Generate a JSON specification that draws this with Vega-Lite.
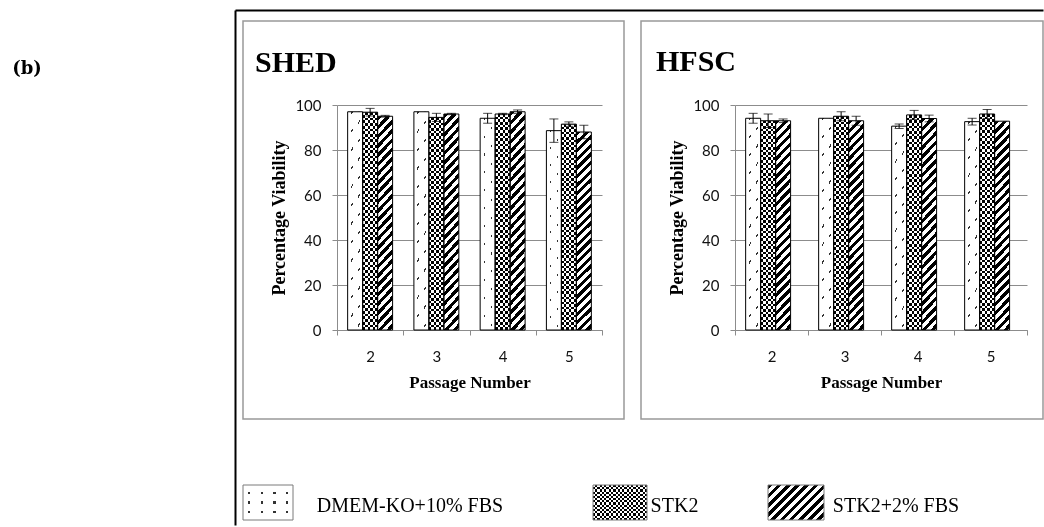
{
  "$schema": "https://vega.github.io/schema/vega-lite/v6.json",
  "usermeta": {"embedOptions": {"actions": false}},
  "background": "white",
  "padding": {"left": 0, "top": 9, "right": 0, "bottom": 0},
  "config": {"view": {"stroke": null}, "font": "Liberation Serif"},
  "datasets": {
    "via": [
      {"panel": "SHED", "passage": "2", "medium": "DMEM-KO+10% FBS", "v": 97, "lo": 97, "hi": 97},
      {"panel": "SHED", "passage": "2", "medium": "STK2", "v": 96.8, "lo": 95.1, "hi": 98.5},
      {"panel": "SHED", "passage": "2", "medium": "STK2+2% FBS", "v": 95, "lo": 94.6, "hi": 95.4},
      {"panel": "SHED", "passage": "3", "medium": "DMEM-KO+10% FBS", "v": 97, "lo": 97, "hi": 97},
      {"panel": "SHED", "passage": "3", "medium": "STK2", "v": 94.5, "lo": 92.7, "hi": 96.3},
      {"panel": "SHED", "passage": "3", "medium": "STK2+2% FBS", "v": 96, "lo": 95.7, "hi": 96.3},
      {"panel": "SHED", "passage": "4", "medium": "DMEM-KO+10% FBS", "v": 94.1, "lo": 91.9, "hi": 96.3},
      {"panel": "SHED", "passage": "4", "medium": "STK2", "v": 96, "lo": 95.7, "hi": 96.3},
      {"panel": "SHED", "passage": "4", "medium": "STK2+2% FBS", "v": 97, "lo": 96.2, "hi": 97.8},
      {"panel": "SHED", "passage": "5", "medium": "DMEM-KO+10% FBS", "v": 88.6, "lo": 83.4, "hi": 93.8},
      {"panel": "SHED", "passage": "5", "medium": "STK2", "v": 91.5, "lo": 90.5, "hi": 92.5},
      {"panel": "SHED", "passage": "5", "medium": "STK2+2% FBS", "v": 88, "lo": 85, "hi": 91},
      {"panel": "HFSC", "passage": "2", "medium": "DMEM-KO+10% FBS", "v": 94.1, "lo": 91.9, "hi": 96.3},
      {"panel": "HFSC", "passage": "2", "medium": "STK2", "v": 93, "lo": 90, "hi": 96},
      {"panel": "HFSC", "passage": "2", "medium": "STK2+2% FBS", "v": 93, "lo": 92.2, "hi": 93.8},
      {"panel": "HFSC", "passage": "3", "medium": "DMEM-KO+10% FBS", "v": 94.1, "lo": 94.1, "hi": 94.1},
      {"panel": "HFSC", "passage": "3", "medium": "STK2", "v": 95, "lo": 93, "hi": 97},
      {"panel": "HFSC", "passage": "3", "medium": "STK2+2% FBS", "v": 93, "lo": 91, "hi": 95},
      {"panel": "HFSC", "passage": "4", "medium": "DMEM-KO+10% FBS", "v": 90.6, "lo": 89.6, "hi": 91.6},
      {"panel": "HFSC", "passage": "4", "medium": "STK2", "v": 95.6, "lo": 93.6, "hi": 97.6},
      {"panel": "HFSC", "passage": "4", "medium": "STK2+2% FBS", "v": 94, "lo": 92.5, "hi": 95.5},
      {"panel": "HFSC", "passage": "5", "medium": "DMEM-KO+10% FBS", "v": 92.6, "lo": 91.1, "hi": 94.1},
      {"panel": "HFSC", "passage": "5", "medium": "STK2", "v": 96, "lo": 94, "hi": 98},
      {"panel": "HFSC", "passage": "5", "medium": "STK2+2% FBS", "v": 92.8, "lo": 92.8, "hi": 92.8}
    ]
  },
  "bounds": "flush",
  "spacing": 189,
  "hconcat": [
    {
      "width": 54,
      "height": 96,
      "data": {"values": [{"t": "(b)"}]},
      "mark": {"type": "text", "font": "DejaVu Serif", "fontSize": 18, "fontWeight": "bold", "baseline": "middle", "align": "center", "color": "#000"},
      "encoding": {"text": {"field": "t"}}
    },
    {
      "bounds": "flush",
      "spacing": 464,
      "vconcat": [
        {
          "bounds": "flush",
          "spacing": 17,
          "hconcat": [
            {
              "width": 381,
              "height": 398,
              "view": {"stroke": "#999999", "strokeWidth": 1.5},
              "title": {"text": "SHED", "anchor": "start", "frame": "group", "orient": "top", "offset": -92, "dx": 12, "baseline": "alphabetic", "font": "Liberation Serif", "fontSize": 30, "fontWeight": "bold", "color": "#000"},
              "data": {"name": "via"},
              "transform": [{"filter": "datum.panel === 'SHED'"}],
              "resolve": {"scale": {"x": "independent", "y": "independent"}, "axis": {"x": "independent", "y": "independent"}},
              "layer": [
                {
                  "mark": {"type": "point", "opacity": 0},
                  "encoding": {
                    "x": {"field": "passage", "type": "nominal", "scale": {"type": "point", "range": [-8, 800]}, "axis": {"orient": "top", "offset": 11, "domain": true, "domainColor": "#000", "domainWidth": 2, "ticks": false, "labels": false, "grid": false, "title": null}},
                    "y": {"field": "v", "type": "quantitative", "scale": {"range": [504, -11]}, "axis": {"orient": "left", "offset": 8, "domain": true, "domainColor": "#000", "domainWidth": 2, "ticks": false, "labels": false, "grid": false, "title": null}}
                  }
                },
                {
                  "encoding": {
                    "x": {"field": "passage", "type": "nominal", "scale": {"domain": ["2", "3", "4", "5"], "range": [94, 359], "paddingInner": 0, "paddingOuter": 0},
                      "axis": {"orient": "bottom", "offset": -89, "domainColor": "#8c8c8c", "domainWidth": 1, "tickBand": "extent", "tickSize": 5, "tickColor": "#8c8c8c", "tickWidth": 1, "grid": false, "labelAngle": 0, "labelFont": "Lato", "labelFontSize": 15, "labelColor": "#111", "labelPadding": 14, "title": "Passage Number", "titleFont": "Liberation Serif", "titleFontSize": 17, "titleFontWeight": "bold", "titleColor": "#000", "titlePadding": 10}},
                    "xOffset": {"field": "medium", "type": "nominal", "scale": {"domain": ["DMEM-KO+10% FBS", "STK2", "STK2+2% FBS"], "paddingInner": 0, "paddingOuter": 0.71}},
                    "y": {"field": "v", "type": "quantitative", "scale": {"domain": [0, 100], "range": [309, 84], "nice": false},
                      "axis": {"orient": "left", "offset": -94, "values": [0, 20, 40, 60, 80, 100], "grid": true, "gridColor": "#8c8c8c", "gridWidth": 1, "domainColor": "#8c8c8c", "domainWidth": 1, "tickSize": 5, "tickColor": "#8c8c8c", "tickWidth": 1, "labelFont": "Lato", "labelFontSize": 15, "labelColor": "#111", "labelPadding": 11, "title": "Percentage Viability", "titleFont": "Liberation Serif", "titleFontSize": 18, "titleFontWeight": "bold", "titleColor": "#000", "titlePadding": 6}}
                  },
                  "layer": [
                    {"transform": [{"filter": "datum.medium === 'DMEM-KO+10% FBS'"}],
                     "mark": {"type": "bar", "fill": {"gradient": "linear", "x1": 0, "y1": 0, "x2": 1, "y2": 0, "stops": [{"offset": 0, "color": "#fff"}, {"offset": 0.24, "color": "#fff"}, {"offset": 0.24, "color": "#333"}, {"offset": 0.34, "color": "#333"}, {"offset": 0.34, "color": "#fff"}, {"offset": 0.7, "color": "#fff"}, {"offset": 0.7, "color": "#333"}, {"offset": 0.8, "color": "#333"}, {"offset": 0.8, "color": "#fff"}, {"offset": 1, "color": "#fff"}]}}},
                    {"transform": [{"filter": "datum.medium === 'DMEM-KO+10% FBS'"}],
                     "mark": {"type": "bar", "fill": {"gradient": "linear", "x1": 0, "y1": 0, "x2": 0.0927, "y2": 1.09, "stops": [{"offset": 0, "color": "#fff"},
                       {"offset": 0.02, "color": "#fff"}, {"offset": 0.02, "color": "rgba(255,255,255,0)"}, {"offset": 0.029, "color": "rgba(255,255,255,0)"}, {"offset": 0.029, "color": "#fff"},
                       {"offset": 0.097, "color": "#fff"}, {"offset": 0.097, "color": "rgba(255,255,255,0)"}, {"offset": 0.106, "color": "rgba(255,255,255,0)"}, {"offset": 0.106, "color": "#fff"},
                       {"offset": 0.174, "color": "#fff"}, {"offset": 0.174, "color": "rgba(255,255,255,0)"}, {"offset": 0.183, "color": "rgba(255,255,255,0)"}, {"offset": 0.183, "color": "#fff"},
                       {"offset": 0.251, "color": "#fff"}, {"offset": 0.251, "color": "rgba(255,255,255,0)"}, {"offset": 0.26, "color": "rgba(255,255,255,0)"}, {"offset": 0.26, "color": "#fff"},
                       {"offset": 0.328, "color": "#fff"}, {"offset": 0.328, "color": "rgba(255,255,255,0)"}, {"offset": 0.337, "color": "rgba(255,255,255,0)"}, {"offset": 0.337, "color": "#fff"},
                       {"offset": 0.405, "color": "#fff"}, {"offset": 0.405, "color": "rgba(255,255,255,0)"}, {"offset": 0.414, "color": "rgba(255,255,255,0)"}, {"offset": 0.414, "color": "#fff"},
                       {"offset": 0.482, "color": "#fff"}, {"offset": 0.482, "color": "rgba(255,255,255,0)"}, {"offset": 0.491, "color": "rgba(255,255,255,0)"}, {"offset": 0.491, "color": "#fff"},
                       {"offset": 0.559, "color": "#fff"}, {"offset": 0.559, "color": "rgba(255,255,255,0)"}, {"offset": 0.568, "color": "rgba(255,255,255,0)"}, {"offset": 0.568, "color": "#fff"},
                       {"offset": 0.636, "color": "#fff"}, {"offset": 0.636, "color": "rgba(255,255,255,0)"}, {"offset": 0.645, "color": "rgba(255,255,255,0)"}, {"offset": 0.645, "color": "#fff"},
                       {"offset": 0.713, "color": "#fff"}, {"offset": 0.713, "color": "rgba(255,255,255,0)"}, {"offset": 0.722, "color": "rgba(255,255,255,0)"}, {"offset": 0.722, "color": "#fff"},
                       {"offset": 0.79, "color": "#fff"}, {"offset": 0.79, "color": "rgba(255,255,255,0)"}, {"offset": 0.799, "color": "rgba(255,255,255,0)"}, {"offset": 0.799, "color": "#fff"},
                       {"offset": 0.867, "color": "#fff"}, {"offset": 0.867, "color": "rgba(255,255,255,0)"}, {"offset": 0.876, "color": "rgba(255,255,255,0)"}, {"offset": 0.876, "color": "#fff"},
                       {"offset": 0.944, "color": "#fff"}, {"offset": 0.944, "color": "rgba(255,255,255,0)"}, {"offset": 0.953, "color": "rgba(255,255,255,0)"}, {"offset": 0.953, "color": "#fff"},
                       {"offset": 1, "color": "#fff"}]}}},
                    {"transform": [{"filter": "datum.medium === 'STK2'"}],
                     "mark": {"type": "bar", "fill": {"gradient": "linear", "x1": 0, "y1": 0, "x2": 1, "y2": 0, "stops": [{"offset": 0, "color": "#000"}, {"offset": 0.1667, "color": "#000"}, {"offset": 0.1667, "color": "#fff"}, {"offset": 0.3333, "color": "#fff"}, {"offset": 0.3333, "color": "#000"}, {"offset": 0.5, "color": "#000"}, {"offset": 0.5, "color": "#fff"}, {"offset": 0.6667, "color": "#fff"}, {"offset": 0.6667, "color": "#000"}, {"offset": 0.8333, "color": "#000"}, {"offset": 0.8333, "color": "#fff"}, {"offset": 1, "color": "#fff"}]}}},
                    {"transform": [{"filter": "datum.medium === 'STK2'"}],
                     "mark": {"type": "bar", "blend": "difference", "fill": {"gradient": "linear", "x1": 0, "y1": 0, "x2": 0, "y2": 1, "stops": [
                       {"offset": 0, "color": "#fff"}, {"offset": 0.0125, "color": "#fff"}, {"offset": 0.0125, "color": "#000"}, {"offset": 0.025, "color": "#000"},
                       {"offset": 0.025, "color": "#fff"}, {"offset": 0.0375, "color": "#fff"}, {"offset": 0.0375, "color": "#000"}, {"offset": 0.05, "color": "#000"},
                       {"offset": 0.05, "color": "#fff"}, {"offset": 0.0625, "color": "#fff"}, {"offset": 0.0625, "color": "#000"}, {"offset": 0.075, "color": "#000"},
                       {"offset": 0.075, "color": "#fff"}, {"offset": 0.0875, "color": "#fff"}, {"offset": 0.0875, "color": "#000"}, {"offset": 0.1, "color": "#000"},
                       {"offset": 0.1, "color": "#fff"}, {"offset": 0.1125, "color": "#fff"}, {"offset": 0.1125, "color": "#000"}, {"offset": 0.125, "color": "#000"},
                       {"offset": 0.125, "color": "#fff"}, {"offset": 0.1375, "color": "#fff"}, {"offset": 0.1375, "color": "#000"}, {"offset": 0.15, "color": "#000"},
                       {"offset": 0.15, "color": "#fff"}, {"offset": 0.1625, "color": "#fff"}, {"offset": 0.1625, "color": "#000"}, {"offset": 0.175, "color": "#000"},
                       {"offset": 0.175, "color": "#fff"}, {"offset": 0.1875, "color": "#fff"}, {"offset": 0.1875, "color": "#000"}, {"offset": 0.2, "color": "#000"},
                       {"offset": 0.2, "color": "#fff"}, {"offset": 0.2125, "color": "#fff"}, {"offset": 0.2125, "color": "#000"}, {"offset": 0.225, "color": "#000"},
                       {"offset": 0.225, "color": "#fff"}, {"offset": 0.2375, "color": "#fff"}, {"offset": 0.2375, "color": "#000"}, {"offset": 0.25, "color": "#000"},
                       {"offset": 0.25, "color": "#fff"}, {"offset": 0.2625, "color": "#fff"}, {"offset": 0.2625, "color": "#000"}, {"offset": 0.275, "color": "#000"},
                       {"offset": 0.275, "color": "#fff"}, {"offset": 0.2875, "color": "#fff"}, {"offset": 0.2875, "color": "#000"}, {"offset": 0.3, "color": "#000"},
                       {"offset": 0.3, "color": "#fff"}, {"offset": 0.3125, "color": "#fff"}, {"offset": 0.3125, "color": "#000"}, {"offset": 0.325, "color": "#000"},
                       {"offset": 0.325, "color": "#fff"}, {"offset": 0.3375, "color": "#fff"}, {"offset": 0.3375, "color": "#000"}, {"offset": 0.35, "color": "#000"},
                       {"offset": 0.35, "color": "#fff"}, {"offset": 0.3625, "color": "#fff"}, {"offset": 0.3625, "color": "#000"}, {"offset": 0.375, "color": "#000"},
                       {"offset": 0.375, "color": "#fff"}, {"offset": 0.3875, "color": "#fff"}, {"offset": 0.3875, "color": "#000"}, {"offset": 0.4, "color": "#000"},
                       {"offset": 0.4, "color": "#fff"}, {"offset": 0.4125, "color": "#fff"}, {"offset": 0.4125, "color": "#000"}, {"offset": 0.425, "color": "#000"},
                       {"offset": 0.425, "color": "#fff"}, {"offset": 0.4375, "color": "#fff"}, {"offset": 0.4375, "color": "#000"}, {"offset": 0.45, "color": "#000"},
                       {"offset": 0.45, "color": "#fff"}, {"offset": 0.4625, "color": "#fff"}, {"offset": 0.4625, "color": "#000"}, {"offset": 0.475, "color": "#000"},
                       {"offset": 0.475, "color": "#fff"}, {"offset": 0.4875, "color": "#fff"}, {"offset": 0.4875, "color": "#000"}, {"offset": 0.5, "color": "#000"},
                       {"offset": 0.5, "color": "#fff"}, {"offset": 0.5125, "color": "#fff"}, {"offset": 0.5125, "color": "#000"}, {"offset": 0.525, "color": "#000"},
                       {"offset": 0.525, "color": "#fff"}, {"offset": 0.5375, "color": "#fff"}, {"offset": 0.5375, "color": "#000"}, {"offset": 0.55, "color": "#000"},
                       {"offset": 0.55, "color": "#fff"}, {"offset": 0.5625, "color": "#fff"}, {"offset": 0.5625, "color": "#000"}, {"offset": 0.575, "color": "#000"},
                       {"offset": 0.575, "color": "#fff"}, {"offset": 0.5875, "color": "#fff"}, {"offset": 0.5875, "color": "#000"}, {"offset": 0.6, "color": "#000"},
                       {"offset": 0.6, "color": "#fff"}, {"offset": 0.6125, "color": "#fff"}, {"offset": 0.6125, "color": "#000"}, {"offset": 0.625, "color": "#000"},
                       {"offset": 0.625, "color": "#fff"}, {"offset": 0.6375, "color": "#fff"}, {"offset": 0.6375, "color": "#000"}, {"offset": 0.65, "color": "#000"},
                       {"offset": 0.65, "color": "#fff"}, {"offset": 0.6625, "color": "#fff"}, {"offset": 0.6625, "color": "#000"}, {"offset": 0.675, "color": "#000"},
                       {"offset": 0.675, "color": "#fff"}, {"offset": 0.6875, "color": "#fff"}, {"offset": 0.6875, "color": "#000"}, {"offset": 0.7, "color": "#000"},
                       {"offset": 0.7, "color": "#fff"}, {"offset": 0.7125, "color": "#fff"}, {"offset": 0.7125, "color": "#000"}, {"offset": 0.725, "color": "#000"},
                       {"offset": 0.725, "color": "#fff"}, {"offset": 0.7375, "color": "#fff"}, {"offset": 0.7375, "color": "#000"}, {"offset": 0.75, "color": "#000"},
                       {"offset": 0.75, "color": "#fff"}, {"offset": 0.7625, "color": "#fff"}, {"offset": 0.7625, "color": "#000"}, {"offset": 0.775, "color": "#000"},
                       {"offset": 0.775, "color": "#fff"}, {"offset": 0.7875, "color": "#fff"}, {"offset": 0.7875, "color": "#000"}, {"offset": 0.8, "color": "#000"},
                       {"offset": 0.8, "color": "#fff"}, {"offset": 0.8125, "color": "#fff"}, {"offset": 0.8125, "color": "#000"}, {"offset": 0.825, "color": "#000"},
                       {"offset": 0.825, "color": "#fff"}, {"offset": 0.8375, "color": "#fff"}, {"offset": 0.8375, "color": "#000"}, {"offset": 0.85, "color": "#000"},
                       {"offset": 0.85, "color": "#fff"}, {"offset": 0.8625, "color": "#fff"}, {"offset": 0.8625, "color": "#000"}, {"offset": 0.875, "color": "#000"},
                       {"offset": 0.875, "color": "#fff"}, {"offset": 0.8875, "color": "#fff"}, {"offset": 0.8875, "color": "#000"}, {"offset": 0.9, "color": "#000"},
                       {"offset": 0.9, "color": "#fff"}, {"offset": 0.9125, "color": "#fff"}, {"offset": 0.9125, "color": "#000"}, {"offset": 0.925, "color": "#000"},
                       {"offset": 0.925, "color": "#fff"}, {"offset": 0.9375, "color": "#fff"}, {"offset": 0.9375, "color": "#000"}, {"offset": 0.95, "color": "#000"},
                       {"offset": 0.95, "color": "#fff"}, {"offset": 0.9625, "color": "#fff"}, {"offset": 0.9625, "color": "#000"}, {"offset": 0.975, "color": "#000"},
                       {"offset": 0.975, "color": "#fff"}, {"offset": 0.9875, "color": "#fff"}, {"offset": 0.9875, "color": "#000"}, {"offset": 1, "color": "#000"}]}}},
                    {"transform": [{"filter": "datum.medium === 'STK2+2% FBS'"}],
                     "mark": {"type": "bar", "fill": {"gradient": "linear", "x1": 0, "y1": 0, "x2": 0.081, "y2": 1.08, "stops": [
                       {"offset": 0, "color": "#000"}, {"offset": 0.02, "color": "#000"}, {"offset": 0.02, "color": "#fff"}, {"offset": 0.04, "color": "#fff"},
                       {"offset": 0.04, "color": "#000"}, {"offset": 0.06, "color": "#000"}, {"offset": 0.06, "color": "#fff"}, {"offset": 0.08, "color": "#fff"},
                       {"offset": 0.08, "color": "#000"}, {"offset": 0.1, "color": "#000"}, {"offset": 0.1, "color": "#fff"}, {"offset": 0.12, "color": "#fff"},
                       {"offset": 0.12, "color": "#000"}, {"offset": 0.14, "color": "#000"}, {"offset": 0.14, "color": "#fff"}, {"offset": 0.16, "color": "#fff"},
                       {"offset": 0.16, "color": "#000"}, {"offset": 0.18, "color": "#000"}, {"offset": 0.18, "color": "#fff"}, {"offset": 0.2, "color": "#fff"},
                       {"offset": 0.2, "color": "#000"}, {"offset": 0.22, "color": "#000"}, {"offset": 0.22, "color": "#fff"}, {"offset": 0.24, "color": "#fff"},
                       {"offset": 0.24, "color": "#000"}, {"offset": 0.26, "color": "#000"}, {"offset": 0.26, "color": "#fff"}, {"offset": 0.28, "color": "#fff"},
                       {"offset": 0.28, "color": "#000"}, {"offset": 0.3, "color": "#000"}, {"offset": 0.3, "color": "#fff"}, {"offset": 0.32, "color": "#fff"},
                       {"offset": 0.32, "color": "#000"}, {"offset": 0.34, "color": "#000"}, {"offset": 0.34, "color": "#fff"}, {"offset": 0.36, "color": "#fff"},
                       {"offset": 0.36, "color": "#000"}, {"offset": 0.38, "color": "#000"}, {"offset": 0.38, "color": "#fff"}, {"offset": 0.4, "color": "#fff"},
                       {"offset": 0.4, "color": "#000"}, {"offset": 0.42, "color": "#000"}, {"offset": 0.42, "color": "#fff"}, {"offset": 0.44, "color": "#fff"},
                       {"offset": 0.44, "color": "#000"}, {"offset": 0.46, "color": "#000"}, {"offset": 0.46, "color": "#fff"}, {"offset": 0.48, "color": "#fff"},
                       {"offset": 0.48, "color": "#000"}, {"offset": 0.5, "color": "#000"}, {"offset": 0.5, "color": "#fff"}, {"offset": 0.52, "color": "#fff"},
                       {"offset": 0.52, "color": "#000"}, {"offset": 0.54, "color": "#000"}, {"offset": 0.54, "color": "#fff"}, {"offset": 0.56, "color": "#fff"},
                       {"offset": 0.56, "color": "#000"}, {"offset": 0.58, "color": "#000"}, {"offset": 0.58, "color": "#fff"}, {"offset": 0.6, "color": "#fff"},
                       {"offset": 0.6, "color": "#000"}, {"offset": 0.62, "color": "#000"}, {"offset": 0.62, "color": "#fff"}, {"offset": 0.64, "color": "#fff"},
                       {"offset": 0.64, "color": "#000"}, {"offset": 0.66, "color": "#000"}, {"offset": 0.66, "color": "#fff"}, {"offset": 0.68, "color": "#fff"},
                       {"offset": 0.68, "color": "#000"}, {"offset": 0.7, "color": "#000"}, {"offset": 0.7, "color": "#fff"}, {"offset": 0.72, "color": "#fff"},
                       {"offset": 0.72, "color": "#000"}, {"offset": 0.74, "color": "#000"}, {"offset": 0.74, "color": "#fff"}, {"offset": 0.76, "color": "#fff"},
                       {"offset": 0.76, "color": "#000"}, {"offset": 0.78, "color": "#000"}, {"offset": 0.78, "color": "#fff"}, {"offset": 0.8, "color": "#fff"},
                       {"offset": 0.8, "color": "#000"}, {"offset": 0.82, "color": "#000"}, {"offset": 0.82, "color": "#fff"}, {"offset": 0.84, "color": "#fff"},
                       {"offset": 0.84, "color": "#000"}, {"offset": 0.86, "color": "#000"}, {"offset": 0.86, "color": "#fff"}, {"offset": 0.88, "color": "#fff"},
                       {"offset": 0.88, "color": "#000"}, {"offset": 0.9, "color": "#000"}, {"offset": 0.9, "color": "#fff"}, {"offset": 0.92, "color": "#fff"},
                       {"offset": 0.92, "color": "#000"}, {"offset": 0.94, "color": "#000"}, {"offset": 0.94, "color": "#fff"}, {"offset": 0.96, "color": "#fff"},
                       {"offset": 0.96, "color": "#000"}, {"offset": 0.98, "color": "#000"}, {"offset": 0.98, "color": "#fff"}, {"offset": 1, "color": "#fff"}]}}},
                    {"mark": {"type": "bar", "fill": "transparent", "stroke": "#000", "strokeWidth": 1}},
                    {"transform": [{"filter": "datum.hi > datum.lo"}],
                     "mark": {"type": "rule", "color": "#000", "strokeWidth": 1},
                     "encoding": {"y": {"field": "lo", "type": "quantitative"}, "y2": {"field": "hi"}}},
                    {"transform": [{"filter": "datum.hi > datum.lo"}],
                     "mark": {"type": "tick", "color": "#000", "thickness": 1, "size": 9},
                     "encoding": {"y": {"field": "lo", "type": "quantitative"}}},
                    {"transform": [{"filter": "datum.hi > datum.lo"}],
                     "mark": {"type": "tick", "color": "#000", "thickness": 1, "size": 9},
                     "encoding": {"y": {"field": "hi", "type": "quantitative"}}}
                  ]
                }
              ]
            },
            {
              "width": 402,
              "height": 398,
              "view": {"stroke": "#999999", "strokeWidth": 1.5},
              "title": {"text": "HFSC", "anchor": "start", "frame": "group", "orient": "top", "offset": -80, "dx": 15, "baseline": "alphabetic", "font": "Liberation Serif", "fontSize": 30, "fontWeight": "bold", "color": "#000"},
              "data": {"name": "via"},
              "transform": [{"filter": "datum.panel === 'HFSC'"}],
              "encoding": {
                "x": {"field": "passage", "type": "nominal", "scale": {"domain": ["2", "3", "4", "5"], "range": [94, 386], "paddingInner": 0, "paddingOuter": 0},
                  "axis": {"orient": "bottom", "offset": -89, "domainColor": "#8c8c8c", "domainWidth": 1, "tickBand": "extent", "tickSize": 5, "tickColor": "#8c8c8c", "tickWidth": 1, "grid": false, "labelAngle": 0, "labelFont": "Lato", "labelFontSize": 15, "labelColor": "#111", "labelPadding": 14, "title": "Passage Number", "titleFont": "Liberation Serif", "titleFontSize": 17, "titleFontWeight": "bold", "titleColor": "#000", "titlePadding": 10}},
                "xOffset": {"field": "medium", "type": "nominal", "scale": {"domain": ["DMEM-KO+10% FBS", "STK2", "STK2+2% FBS"], "paddingInner": 0, "paddingOuter": 0.71}},
                "y": {"field": "v", "type": "quantitative", "scale": {"domain": [0, 100], "range": [309, 84], "nice": false},
                  "axis": {"orient": "left", "offset": -94, "values": [0, 20, 40, 60, 80, 100], "grid": true, "gridColor": "#8c8c8c", "gridWidth": 1, "domainColor": "#8c8c8c", "domainWidth": 1, "tickSize": 5, "tickColor": "#8c8c8c", "tickWidth": 1, "labelFont": "Lato", "labelFontSize": 15, "labelColor": "#111", "labelPadding": 11, "title": "Percentage Viability", "titleFont": "Liberation Serif", "titleFontSize": 18, "titleFontWeight": "bold", "titleColor": "#000", "titlePadding": 6}}
              },
              "layer": [
                {"transform": [{"filter": "datum.medium === 'DMEM-KO+10% FBS'"}],
                 "mark": {"type": "bar", "fill": {"gradient": "linear", "x1": 0, "y1": 0, "x2": 1, "y2": 0, "stops": [{"offset": 0, "color": "#fff"}, {"offset": 0.24, "color": "#fff"}, {"offset": 0.24, "color": "#333"}, {"offset": 0.34, "color": "#333"}, {"offset": 0.34, "color": "#fff"}, {"offset": 0.7, "color": "#fff"}, {"offset": 0.7, "color": "#333"}, {"offset": 0.8, "color": "#333"}, {"offset": 0.8, "color": "#fff"}, {"offset": 1, "color": "#fff"}]}}},
                {"transform": [{"filter": "datum.medium === 'DMEM-KO+10% FBS'"}],
                 "mark": {"type": "bar", "fill": {"gradient": "linear", "x1": 0, "y1": 0, "x2": 0.0927, "y2": 1.09, "stops": [{"offset": 0, "color": "#fff"},
                   {"offset": 0.02, "color": "#fff"}, {"offset": 0.02, "color": "rgba(255,255,255,0)"}, {"offset": 0.029, "color": "rgba(255,255,255,0)"}, {"offset": 0.029, "color": "#fff"},
                   {"offset": 0.097, "color": "#fff"}, {"offset": 0.097, "color": "rgba(255,255,255,0)"}, {"offset": 0.106, "color": "rgba(255,255,255,0)"}, {"offset": 0.106, "color": "#fff"},
                   {"offset": 0.174, "color": "#fff"}, {"offset": 0.174, "color": "rgba(255,255,255,0)"}, {"offset": 0.183, "color": "rgba(255,255,255,0)"}, {"offset": 0.183, "color": "#fff"},
                   {"offset": 0.251, "color": "#fff"}, {"offset": 0.251, "color": "rgba(255,255,255,0)"}, {"offset": 0.26, "color": "rgba(255,255,255,0)"}, {"offset": 0.26, "color": "#fff"},
                   {"offset": 0.328, "color": "#fff"}, {"offset": 0.328, "color": "rgba(255,255,255,0)"}, {"offset": 0.337, "color": "rgba(255,255,255,0)"}, {"offset": 0.337, "color": "#fff"},
                   {"offset": 0.405, "color": "#fff"}, {"offset": 0.405, "color": "rgba(255,255,255,0)"}, {"offset": 0.414, "color": "rgba(255,255,255,0)"}, {"offset": 0.414, "color": "#fff"},
                   {"offset": 0.482, "color": "#fff"}, {"offset": 0.482, "color": "rgba(255,255,255,0)"}, {"offset": 0.491, "color": "rgba(255,255,255,0)"}, {"offset": 0.491, "color": "#fff"},
                   {"offset": 0.559, "color": "#fff"}, {"offset": 0.559, "color": "rgba(255,255,255,0)"}, {"offset": 0.568, "color": "rgba(255,255,255,0)"}, {"offset": 0.568, "color": "#fff"},
                   {"offset": 0.636, "color": "#fff"}, {"offset": 0.636, "color": "rgba(255,255,255,0)"}, {"offset": 0.645, "color": "rgba(255,255,255,0)"}, {"offset": 0.645, "color": "#fff"},
                   {"offset": 0.713, "color": "#fff"}, {"offset": 0.713, "color": "rgba(255,255,255,0)"}, {"offset": 0.722, "color": "rgba(255,255,255,0)"}, {"offset": 0.722, "color": "#fff"},
                   {"offset": 0.79, "color": "#fff"}, {"offset": 0.79, "color": "rgba(255,255,255,0)"}, {"offset": 0.799, "color": "rgba(255,255,255,0)"}, {"offset": 0.799, "color": "#fff"},
                   {"offset": 0.867, "color": "#fff"}, {"offset": 0.867, "color": "rgba(255,255,255,0)"}, {"offset": 0.876, "color": "rgba(255,255,255,0)"}, {"offset": 0.876, "color": "#fff"},
                   {"offset": 0.944, "color": "#fff"}, {"offset": 0.944, "color": "rgba(255,255,255,0)"}, {"offset": 0.953, "color": "rgba(255,255,255,0)"}, {"offset": 0.953, "color": "#fff"},
                   {"offset": 1, "color": "#fff"}]}}},
                {"transform": [{"filter": "datum.medium === 'STK2'"}],
                 "mark": {"type": "bar", "fill": {"gradient": "linear", "x1": 0, "y1": 0, "x2": 1, "y2": 0, "stops": [{"offset": 0, "color": "#000"}, {"offset": 0.1667, "color": "#000"}, {"offset": 0.1667, "color": "#fff"}, {"offset": 0.3333, "color": "#fff"}, {"offset": 0.3333, "color": "#000"}, {"offset": 0.5, "color": "#000"}, {"offset": 0.5, "color": "#fff"}, {"offset": 0.6667, "color": "#fff"}, {"offset": 0.6667, "color": "#000"}, {"offset": 0.8333, "color": "#000"}, {"offset": 0.8333, "color": "#fff"}, {"offset": 1, "color": "#fff"}]}}},
                {"transform": [{"filter": "datum.medium === 'STK2'"}],
                 "mark": {"type": "bar", "blend": "difference", "fill": {"gradient": "linear", "x1": 0, "y1": 0, "x2": 0, "y2": 1, "stops": [
                   {"offset": 0, "color": "#fff"}, {"offset": 0.0125, "color": "#fff"}, {"offset": 0.0125, "color": "#000"}, {"offset": 0.025, "color": "#000"},
                   {"offset": 0.025, "color": "#fff"}, {"offset": 0.0375, "color": "#fff"}, {"offset": 0.0375, "color": "#000"}, {"offset": 0.05, "color": "#000"},
                   {"offset": 0.05, "color": "#fff"}, {"offset": 0.0625, "color": "#fff"}, {"offset": 0.0625, "color": "#000"}, {"offset": 0.075, "color": "#000"},
                   {"offset": 0.075, "color": "#fff"}, {"offset": 0.0875, "color": "#fff"}, {"offset": 0.0875, "color": "#000"}, {"offset": 0.1, "color": "#000"},
                   {"offset": 0.1, "color": "#fff"}, {"offset": 0.1125, "color": "#fff"}, {"offset": 0.1125, "color": "#000"}, {"offset": 0.125, "color": "#000"},
                   {"offset": 0.125, "color": "#fff"}, {"offset": 0.1375, "color": "#fff"}, {"offset": 0.1375, "color": "#000"}, {"offset": 0.15, "color": "#000"},
                   {"offset": 0.15, "color": "#fff"}, {"offset": 0.1625, "color": "#fff"}, {"offset": 0.1625, "color": "#000"}, {"offset": 0.175, "color": "#000"},
                   {"offset": 0.175, "color": "#fff"}, {"offset": 0.1875, "color": "#fff"}, {"offset": 0.1875, "color": "#000"}, {"offset": 0.2, "color": "#000"},
                   {"offset": 0.2, "color": "#fff"}, {"offset": 0.2125, "color": "#fff"}, {"offset": 0.2125, "color": "#000"}, {"offset": 0.225, "color": "#000"},
                   {"offset": 0.225, "color": "#fff"}, {"offset": 0.2375, "color": "#fff"}, {"offset": 0.2375, "color": "#000"}, {"offset": 0.25, "color": "#000"},
                   {"offset": 0.25, "color": "#fff"}, {"offset": 0.2625, "color": "#fff"}, {"offset": 0.2625, "color": "#000"}, {"offset": 0.275, "color": "#000"},
                   {"offset": 0.275, "color": "#fff"}, {"offset": 0.2875, "color": "#fff"}, {"offset": 0.2875, "color": "#000"}, {"offset": 0.3, "color": "#000"},
                   {"offset": 0.3, "color": "#fff"}, {"offset": 0.3125, "color": "#fff"}, {"offset": 0.3125, "color": "#000"}, {"offset": 0.325, "color": "#000"},
                   {"offset": 0.325, "color": "#fff"}, {"offset": 0.3375, "color": "#fff"}, {"offset": 0.3375, "color": "#000"}, {"offset": 0.35, "color": "#000"},
                   {"offset": 0.35, "color": "#fff"}, {"offset": 0.3625, "color": "#fff"}, {"offset": 0.3625, "color": "#000"}, {"offset": 0.375, "color": "#000"},
                   {"offset": 0.375, "color": "#fff"}, {"offset": 0.3875, "color": "#fff"}, {"offset": 0.3875, "color": "#000"}, {"offset": 0.4, "color": "#000"},
                   {"offset": 0.4, "color": "#fff"}, {"offset": 0.4125, "color": "#fff"}, {"offset": 0.4125, "color": "#000"}, {"offset": 0.425, "color": "#000"},
                   {"offset": 0.425, "color": "#fff"}, {"offset": 0.4375, "color": "#fff"}, {"offset": 0.4375, "color": "#000"}, {"offset": 0.45, "color": "#000"},
                   {"offset": 0.45, "color": "#fff"}, {"offset": 0.4625, "color": "#fff"}, {"offset": 0.4625, "color": "#000"}, {"offset": 0.475, "color": "#000"},
                   {"offset": 0.475, "color": "#fff"}, {"offset": 0.4875, "color": "#fff"}, {"offset": 0.4875, "color": "#000"}, {"offset": 0.5, "color": "#000"},
                   {"offset": 0.5, "color": "#fff"}, {"offset": 0.5125, "color": "#fff"}, {"offset": 0.5125, "color": "#000"}, {"offset": 0.525, "color": "#000"},
                   {"offset": 0.525, "color": "#fff"}, {"offset": 0.5375, "color": "#fff"}, {"offset": 0.5375, "color": "#000"}, {"offset": 0.55, "color": "#000"},
                   {"offset": 0.55, "color": "#fff"}, {"offset": 0.5625, "color": "#fff"}, {"offset": 0.5625, "color": "#000"}, {"offset": 0.575, "color": "#000"},
                   {"offset": 0.575, "color": "#fff"}, {"offset": 0.5875, "color": "#fff"}, {"offset": 0.5875, "color": "#000"}, {"offset": 0.6, "color": "#000"},
                   {"offset": 0.6, "color": "#fff"}, {"offset": 0.6125, "color": "#fff"}, {"offset": 0.6125, "color": "#000"}, {"offset": 0.625, "color": "#000"},
                   {"offset": 0.625, "color": "#fff"}, {"offset": 0.6375, "color": "#fff"}, {"offset": 0.6375, "color": "#000"}, {"offset": 0.65, "color": "#000"},
                   {"offset": 0.65, "color": "#fff"}, {"offset": 0.6625, "color": "#fff"}, {"offset": 0.6625, "color": "#000"}, {"offset": 0.675, "color": "#000"},
                   {"offset": 0.675, "color": "#fff"}, {"offset": 0.6875, "color": "#fff"}, {"offset": 0.6875, "color": "#000"}, {"offset": 0.7, "color": "#000"},
                   {"offset": 0.7, "color": "#fff"}, {"offset": 0.7125, "color": "#fff"}, {"offset": 0.7125, "color": "#000"}, {"offset": 0.725, "color": "#000"},
                   {"offset": 0.725, "color": "#fff"}, {"offset": 0.7375, "color": "#fff"}, {"offset": 0.7375, "color": "#000"}, {"offset": 0.75, "color": "#000"},
                   {"offset": 0.75, "color": "#fff"}, {"offset": 0.7625, "color": "#fff"}, {"offset": 0.7625, "color": "#000"}, {"offset": 0.775, "color": "#000"},
                   {"offset": 0.775, "color": "#fff"}, {"offset": 0.7875, "color": "#fff"}, {"offset": 0.7875, "color": "#000"}, {"offset": 0.8, "color": "#000"},
                   {"offset": 0.8, "color": "#fff"}, {"offset": 0.8125, "color": "#fff"}, {"offset": 0.8125, "color": "#000"}, {"offset": 0.825, "color": "#000"},
                   {"offset": 0.825, "color": "#fff"}, {"offset": 0.8375, "color": "#fff"}, {"offset": 0.8375, "color": "#000"}, {"offset": 0.85, "color": "#000"},
                   {"offset": 0.85, "color": "#fff"}, {"offset": 0.8625, "color": "#fff"}, {"offset": 0.8625, "color": "#000"}, {"offset": 0.875, "color": "#000"},
                   {"offset": 0.875, "color": "#fff"}, {"offset": 0.8875, "color": "#fff"}, {"offset": 0.8875, "color": "#000"}, {"offset": 0.9, "color": "#000"},
                   {"offset": 0.9, "color": "#fff"}, {"offset": 0.9125, "color": "#fff"}, {"offset": 0.9125, "color": "#000"}, {"offset": 0.925, "color": "#000"},
                   {"offset": 0.925, "color": "#fff"}, {"offset": 0.9375, "color": "#fff"}, {"offset": 0.9375, "color": "#000"}, {"offset": 0.95, "color": "#000"},
                   {"offset": 0.95, "color": "#fff"}, {"offset": 0.9625, "color": "#fff"}, {"offset": 0.9625, "color": "#000"}, {"offset": 0.975, "color": "#000"},
                   {"offset": 0.975, "color": "#fff"}, {"offset": 0.9875, "color": "#fff"}, {"offset": 0.9875, "color": "#000"}, {"offset": 1, "color": "#000"}]}}},
                {"transform": [{"filter": "datum.medium === 'STK2+2% FBS'"}],
                 "mark": {"type": "bar", "fill": {"gradient": "linear", "x1": 0, "y1": 0, "x2": 0.081, "y2": 1.08, "stops": [
                   {"offset": 0, "color": "#000"}, {"offset": 0.02, "color": "#000"}, {"offset": 0.02, "color": "#fff"}, {"offset": 0.04, "color": "#fff"},
                   {"offset": 0.04, "color": "#000"}, {"offset": 0.06, "color": "#000"}, {"offset": 0.06, "color": "#fff"}, {"offset": 0.08, "color": "#fff"},
                   {"offset": 0.08, "color": "#000"}, {"offset": 0.1, "color": "#000"}, {"offset": 0.1, "color": "#fff"}, {"offset": 0.12, "color": "#fff"},
                   {"offset": 0.12, "color": "#000"}, {"offset": 0.14, "color": "#000"}, {"offset": 0.14, "color": "#fff"}, {"offset": 0.16, "color": "#fff"},
                   {"offset": 0.16, "color": "#000"}, {"offset": 0.18, "color": "#000"}, {"offset": 0.18, "color": "#fff"}, {"offset": 0.2, "color": "#fff"},
                   {"offset": 0.2, "color": "#000"}, {"offset": 0.22, "color": "#000"}, {"offset": 0.22, "color": "#fff"}, {"offset": 0.24, "color": "#fff"},
                   {"offset": 0.24, "color": "#000"}, {"offset": 0.26, "color": "#000"}, {"offset": 0.26, "color": "#fff"}, {"offset": 0.28, "color": "#fff"},
                   {"offset": 0.28, "color": "#000"}, {"offset": 0.3, "color": "#000"}, {"offset": 0.3, "color": "#fff"}, {"offset": 0.32, "color": "#fff"},
                   {"offset": 0.32, "color": "#000"}, {"offset": 0.34, "color": "#000"}, {"offset": 0.34, "color": "#fff"}, {"offset": 0.36, "color": "#fff"},
                   {"offset": 0.36, "color": "#000"}, {"offset": 0.38, "color": "#000"}, {"offset": 0.38, "color": "#fff"}, {"offset": 0.4, "color": "#fff"},
                   {"offset": 0.4, "color": "#000"}, {"offset": 0.42, "color": "#000"}, {"offset": 0.42, "color": "#fff"}, {"offset": 0.44, "color": "#fff"},
                   {"offset": 0.44, "color": "#000"}, {"offset": 0.46, "color": "#000"}, {"offset": 0.46, "color": "#fff"}, {"offset": 0.48, "color": "#fff"},
                   {"offset": 0.48, "color": "#000"}, {"offset": 0.5, "color": "#000"}, {"offset": 0.5, "color": "#fff"}, {"offset": 0.52, "color": "#fff"},
                   {"offset": 0.52, "color": "#000"}, {"offset": 0.54, "color": "#000"}, {"offset": 0.54, "color": "#fff"}, {"offset": 0.56, "color": "#fff"},
                   {"offset": 0.56, "color": "#000"}, {"offset": 0.58, "color": "#000"}, {"offset": 0.58, "color": "#fff"}, {"offset": 0.6, "color": "#fff"},
                   {"offset": 0.6, "color": "#000"}, {"offset": 0.62, "color": "#000"}, {"offset": 0.62, "color": "#fff"}, {"offset": 0.64, "color": "#fff"},
                   {"offset": 0.64, "color": "#000"}, {"offset": 0.66, "color": "#000"}, {"offset": 0.66, "color": "#fff"}, {"offset": 0.68, "color": "#fff"},
                   {"offset": 0.68, "color": "#000"}, {"offset": 0.7, "color": "#000"}, {"offset": 0.7, "color": "#fff"}, {"offset": 0.72, "color": "#fff"},
                   {"offset": 0.72, "color": "#000"}, {"offset": 0.74, "color": "#000"}, {"offset": 0.74, "color": "#fff"}, {"offset": 0.76, "color": "#fff"},
                   {"offset": 0.76, "color": "#000"}, {"offset": 0.78, "color": "#000"}, {"offset": 0.78, "color": "#fff"}, {"offset": 0.8, "color": "#fff"},
                   {"offset": 0.8, "color": "#000"}, {"offset": 0.82, "color": "#000"}, {"offset": 0.82, "color": "#fff"}, {"offset": 0.84, "color": "#fff"},
                   {"offset": 0.84, "color": "#000"}, {"offset": 0.86, "color": "#000"}, {"offset": 0.86, "color": "#fff"}, {"offset": 0.88, "color": "#fff"},
                   {"offset": 0.88, "color": "#000"}, {"offset": 0.9, "color": "#000"}, {"offset": 0.9, "color": "#fff"}, {"offset": 0.92, "color": "#fff"},
                   {"offset": 0.92, "color": "#000"}, {"offset": 0.94, "color": "#000"}, {"offset": 0.94, "color": "#fff"}, {"offset": 0.96, "color": "#fff"},
                   {"offset": 0.96, "color": "#000"}, {"offset": 0.98, "color": "#000"}, {"offset": 0.98, "color": "#fff"}, {"offset": 1, "color": "#fff"}]}}},
                {"mark": {"type": "bar", "fill": "transparent", "stroke": "#000", "strokeWidth": 1}},
                {"transform": [{"filter": "datum.hi > datum.lo"}],
                 "mark": {"type": "rule", "color": "#000", "strokeWidth": 1},
                 "encoding": {"y": {"field": "lo", "type": "quantitative"}, "y2": {"field": "hi"}}},
                {"transform": [{"filter": "datum.hi > datum.lo"}],
                 "mark": {"type": "tick", "color": "#000", "thickness": 1, "size": 9},
                 "encoding": {"y": {"field": "lo", "type": "quantitative"}}},
                {"transform": [{"filter": "datum.hi > datum.lo"}],
                 "mark": {"type": "tick", "color": "#000", "thickness": 1, "size": 9},
                 "encoding": {"y": {"field": "hi", "type": "quantitative"}}}
              ]
            }
          ]
        },
        {
          "bounds": "full",
          "spacing": 65,
          "hconcat": [
            {
              "bounds": "flush",
              "spacing": 0,
              "hconcat": [
                {
                  "width": 50, "height": 35,
                  "data": {"values": [{"medium": "DMEM-KO+10% FBS"}]},
                  "layer": [
                    {"mark": {"type": "rect", "fill": {"gradient": "linear", "x1": 0, "y1": 0, "x2": 1, "y2": 0, "stops": [{"offset": 0, "color": "#fff"}, {"offset": 0.11, "color": "#fff"}, {"offset": 0.11, "color": "#333"}, {"offset": 0.15, "color": "#333"}, {"offset": 0.15, "color": "#fff"}, {"offset": 0.36, "color": "#fff"}, {"offset": 0.36, "color": "#333"}, {"offset": 0.4, "color": "#333"}, {"offset": 0.4, "color": "#fff"}, {"offset": 0.61, "color": "#fff"}, {"offset": 0.61, "color": "#333"}, {"offset": 0.65, "color": "#333"}, {"offset": 0.65, "color": "#fff"}, {"offset": 0.86, "color": "#fff"}, {"offset": 0.86, "color": "#333"}, {"offset": 0.9, "color": "#333"}, {"offset": 0.9, "color": "#fff"}, {"offset": 1, "color": "#fff"}]}}, "encoding": {}},
                    {"mark": {"type": "rect", "fill": {"gradient": "linear", "x1": 0, "y1": 0, "x2": 0, "y2": 1, "stops": [{"offset": 0, "color": "#fff"}, {"offset": 0.2, "color": "#fff"}, {"offset": 0.2, "color": "rgba(255,255,255,0)"}, {"offset": 0.26, "color": "rgba(255,255,255,0)"}, {"offset": 0.26, "color": "#fff"}, {"offset": 0.47, "color": "#fff"}, {"offset": 0.47, "color": "rgba(255,255,255,0)"}, {"offset": 0.53, "color": "rgba(255,255,255,0)"}, {"offset": 0.53, "color": "#fff"}, {"offset": 0.74, "color": "#fff"}, {"offset": 0.74, "color": "rgba(255,255,255,0)"}, {"offset": 0.8, "color": "rgba(255,255,255,0)"}, {"offset": 0.8, "color": "#fff"}, {"offset": 1, "color": "#fff"}]}}, "encoding": {}},
                    {"mark": {"type": "rect", "fill": "transparent", "stroke": "#7a7a7a", "strokeWidth": 1}, "encoding": {}}
                  ]
                },
                {
                  "width": 234, "height": 35,
                  "data": {"values": [{"t": "DMEM-KO+10% FBS"}]},
                  "mark": {"type": "text", "font": "Liberation Serif", "fontSize": 20, "baseline": "middle", "align": "center", "dy": 3, "color": "#000"},
                  "encoding": {"text": {"field": "t"}}
                }
              ]
            },
            {
              "bounds": "flush",
              "spacing": 0,
              "hconcat": [
                {
                  "width": 54, "height": 35,
                  "data": {"values": [{"medium": "STK2"}]},
                  "layer": [
                    {"mark": {"type": "rect", "fill": {"gradient": "linear", "x1": 0, "y1": 0, "x2": 1, "y2": 0, "stops": [{"offset": 0, "color": "#000"}, {"offset": 0.0417, "color": "#000"}, {"offset": 0.0417, "color": "#fff"}, {"offset": 0.0833, "color": "#fff"}, {"offset": 0.0833, "color": "#000"}, {"offset": 0.125, "color": "#000"}, {"offset": 0.125, "color": "#fff"}, {"offset": 0.1667, "color": "#fff"}, {"offset": 0.1667, "color": "#000"}, {"offset": 0.2083, "color": "#000"}, {"offset": 0.2083, "color": "#fff"}, {"offset": 0.25, "color": "#fff"}, {"offset": 0.25, "color": "#000"}, {"offset": 0.2917, "color": "#000"}, {"offset": 0.2917, "color": "#fff"}, {"offset": 0.3333, "color": "#fff"}, {"offset": 0.3333, "color": "#000"}, {"offset": 0.375, "color": "#000"}, {"offset": 0.375, "color": "#fff"}, {"offset": 0.4167, "color": "#fff"}, {"offset": 0.4167, "color": "#000"}, {"offset": 0.4583, "color": "#000"}, {"offset": 0.4583, "color": "#fff"}, {"offset": 0.5, "color": "#fff"}, {"offset": 0.5, "color": "#000"}, {"offset": 0.5417, "color": "#000"}, {"offset": 0.5417, "color": "#fff"}, {"offset": 0.5833, "color": "#fff"}, {"offset": 0.5833, "color": "#000"}, {"offset": 0.625, "color": "#000"}, {"offset": 0.625, "color": "#fff"}, {"offset": 0.6667, "color": "#fff"}, {"offset": 0.6667, "color": "#000"}, {"offset": 0.7083, "color": "#000"}, {"offset": 0.7083, "color": "#fff"}, {"offset": 0.75, "color": "#fff"}, {"offset": 0.75, "color": "#000"}, {"offset": 0.7917, "color": "#000"}, {"offset": 0.7917, "color": "#fff"}, {"offset": 0.8333, "color": "#fff"}, {"offset": 0.8333, "color": "#000"}, {"offset": 0.875, "color": "#000"}, {"offset": 0.875, "color": "#fff"}, {"offset": 0.9167, "color": "#fff"}, {"offset": 0.9167, "color": "#000"}, {"offset": 0.9583, "color": "#000"}, {"offset": 0.9583, "color": "#fff"}, {"offset": 1, "color": "#fff"}]}}, "encoding": {}},
                    {"mark": {"type": "rect", "blend": "difference", "fill": {"gradient": "linear", "x1": 0, "y1": 0, "x2": 0, "y2": 1, "stops": [{"offset": 0, "color": "#fff"}, {"offset": 0.0625, "color": "#fff"}, {"offset": 0.0625, "color": "#000"}, {"offset": 0.125, "color": "#000"}, {"offset": 0.125, "color": "#fff"}, {"offset": 0.1875, "color": "#fff"}, {"offset": 0.1875, "color": "#000"}, {"offset": 0.25, "color": "#000"}, {"offset": 0.25, "color": "#fff"}, {"offset": 0.3125, "color": "#fff"}, {"offset": 0.3125, "color": "#000"}, {"offset": 0.375, "color": "#000"}, {"offset": 0.375, "color": "#fff"}, {"offset": 0.4375, "color": "#fff"}, {"offset": 0.4375, "color": "#000"}, {"offset": 0.5, "color": "#000"}, {"offset": 0.5, "color": "#fff"}, {"offset": 0.5625, "color": "#fff"}, {"offset": 0.5625, "color": "#000"}, {"offset": 0.625, "color": "#000"}, {"offset": 0.625, "color": "#fff"}, {"offset": 0.6875, "color": "#fff"}, {"offset": 0.6875, "color": "#000"}, {"offset": 0.75, "color": "#000"}, {"offset": 0.75, "color": "#fff"}, {"offset": 0.8125, "color": "#fff"}, {"offset": 0.8125, "color": "#000"}, {"offset": 0.875, "color": "#000"}, {"offset": 0.875, "color": "#fff"}, {"offset": 0.9375, "color": "#fff"}, {"offset": 0.9375, "color": "#000"}, {"offset": 1, "color": "#000"}]}}, "encoding": {}},
                    {"mark": {"type": "rect", "fill": "transparent", "stroke": "#7a7a7a", "strokeWidth": 1}, "encoding": {}}
                  ]
                },
                {
                  "width": 55, "height": 35,
                  "data": {"values": [{"t": "STK2"}]},
                  "mark": {"type": "text", "font": "Liberation Serif", "fontSize": 20, "baseline": "middle", "align": "center", "dy": 3, "color": "#000"},
                  "encoding": {"text": {"field": "t"}}
                }
              ]
            },
            {
              "bounds": "flush",
              "spacing": 0,
              "hconcat": [
                {
                  "width": 56, "height": 35,
                  "data": {"values": [{"medium": "STK2+2% FBS"}]},
                  "layer": [
                    {"mark": {"type": "rect", "fill": {"gradient": "linear", "x1": 0, "y1": 0, "x2": 1.184, "y2": 0.74, "stops": [{"offset": 0, "color": "#000"}, {"offset": 0.05, "color": "#000"}, {"offset": 0.05, "color": "#fff"}, {"offset": 0.1, "color": "#fff"}, {"offset": 0.1, "color": "#000"}, {"offset": 0.15, "color": "#000"}, {"offset": 0.15, "color": "#fff"}, {"offset": 0.2, "color": "#fff"}, {"offset": 0.2, "color": "#000"}, {"offset": 0.25, "color": "#000"}, {"offset": 0.25, "color": "#fff"}, {"offset": 0.3, "color": "#fff"}, {"offset": 0.3, "color": "#000"}, {"offset": 0.35, "color": "#000"}, {"offset": 0.35, "color": "#fff"}, {"offset": 0.4, "color": "#fff"}, {"offset": 0.4, "color": "#000"}, {"offset": 0.45, "color": "#000"}, {"offset": 0.45, "color": "#fff"}, {"offset": 0.5, "color": "#fff"}, {"offset": 0.5, "color": "#000"}, {"offset": 0.55, "color": "#000"}, {"offset": 0.55, "color": "#fff"}, {"offset": 0.6, "color": "#fff"}, {"offset": 0.6, "color": "#000"}, {"offset": 0.65, "color": "#000"}, {"offset": 0.65, "color": "#fff"}, {"offset": 0.7, "color": "#fff"}, {"offset": 0.7, "color": "#000"}, {"offset": 0.75, "color": "#000"}, {"offset": 0.75, "color": "#fff"}, {"offset": 0.8, "color": "#fff"}, {"offset": 0.8, "color": "#000"}, {"offset": 0.85, "color": "#000"}, {"offset": 0.85, "color": "#fff"}, {"offset": 0.9, "color": "#fff"}, {"offset": 0.9, "color": "#000"}, {"offset": 0.95, "color": "#000"}, {"offset": 0.95, "color": "#fff"}, {"offset": 1, "color": "#fff"}]}}, "encoding": {}},
                    {"mark": {"type": "rect", "fill": "transparent", "stroke": "#7a7a7a", "strokeWidth": 1}, "encoding": {}}
                  ]
                },
                {
                  "width": 144, "height": 35,
                  "data": {"values": [{"t": "STK2+2% FBS"}]},
                  "mark": {"type": "text", "font": "Liberation Serif", "fontSize": 20, "baseline": "middle", "align": "center", "dy": 3, "color": "#000"},
                  "encoding": {"text": {"field": "t"}}
                }
              ]
            }
          ]
        }
      ]
    }
  ]
}
